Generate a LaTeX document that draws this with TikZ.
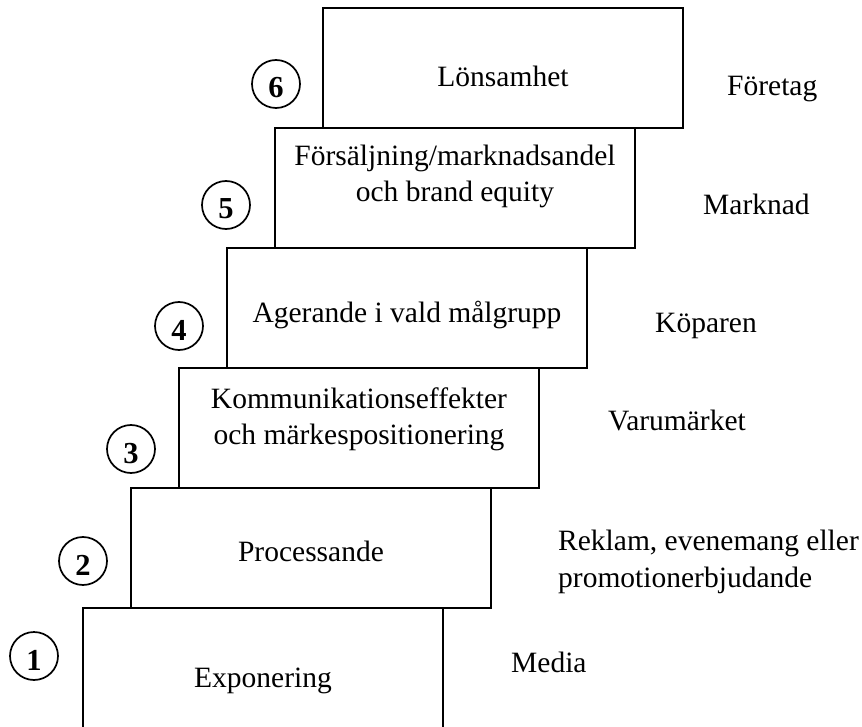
\documentclass[tikz,border=0pt]{standalone}
\usepackage{fontspec}
\setmainfont{Liberation Serif}
\begin{document}
\begin{tikzpicture}[x=1pt,y=-1pt,
  stepbox/.style={draw, line width=2.2pt, rectangle, inner sep=0pt, minimum width=360pt, minimum height=120pt},
  txt/.style={inner sep=0pt, anchor=base, font=\fontsize{29.5}{36}\selectfont},
  lbl/.style={inner sep=0pt, anchor=base west, align=left, font=\fontsize{29.5}{37}\selectfont},
  num/.style={draw, circle, line width=1.7pt, inner sep=0pt, minimum size=48pt, text height=28pt, text depth=0pt, font=\fontsize{30.5}{36}\selectfont\bfseries}]
\useasboundingbox (0,0) rectangle (862,727);
\clip (0,0) rectangle (862,727);
% boxes
\node[stepbox] (b6) at (503,68) {};
\node[stepbox] (b5) at (455,188) {};
\node[stepbox] (b4) at (407,308) {};
\node[stepbox] (b3) at (359,428) {};
\node[stepbox] (b2) at (311,548) {};
\node[stepbox] (b1) at (263,668) {};
% box texts
\node[txt] (t6) at (503,87) {Lönsamhet};
\node[txt, align=center] (t5) at (455,202) {Försäljning/marknadsandel\\och brand equity};
\node[txt] (t4) at (407,323) {Agerande i vald målgrupp};
\node[txt, align=center] (t3) at (359,444) {Kommunikationseffekter\\och märkespositionering};
\node[txt] (t2) at (311,561) {Processande};
\node[txt] (t1) at (263,687) {Exponering};
% numbers
\node[num] (n6) at (276,84) {6};
\node[num] (n5) at (226,205) {5};
\node[num] (n4) at (179,326) {4};
\node[num] (n3) at (131,449) {3};
\node[num] (n2) at (83,561) {2};
\node[num] (n1) at (34,656) {1};
% right labels
\node[lbl] (r6) at (727,96) {Företag};
\node[lbl] (r5) at (703,215) {Marknad};
\node[lbl] (r4) at (655,333) {Köparen};
\node[lbl] (r3) at (608,430) {Varumärket};
\node[lbl] (r2) at (558,587) {Reklam, evenemang eller\\promotionerbjudande};
\node[lbl] (r1) at (511,672) {Media};
\end{tikzpicture}
\end{document}
